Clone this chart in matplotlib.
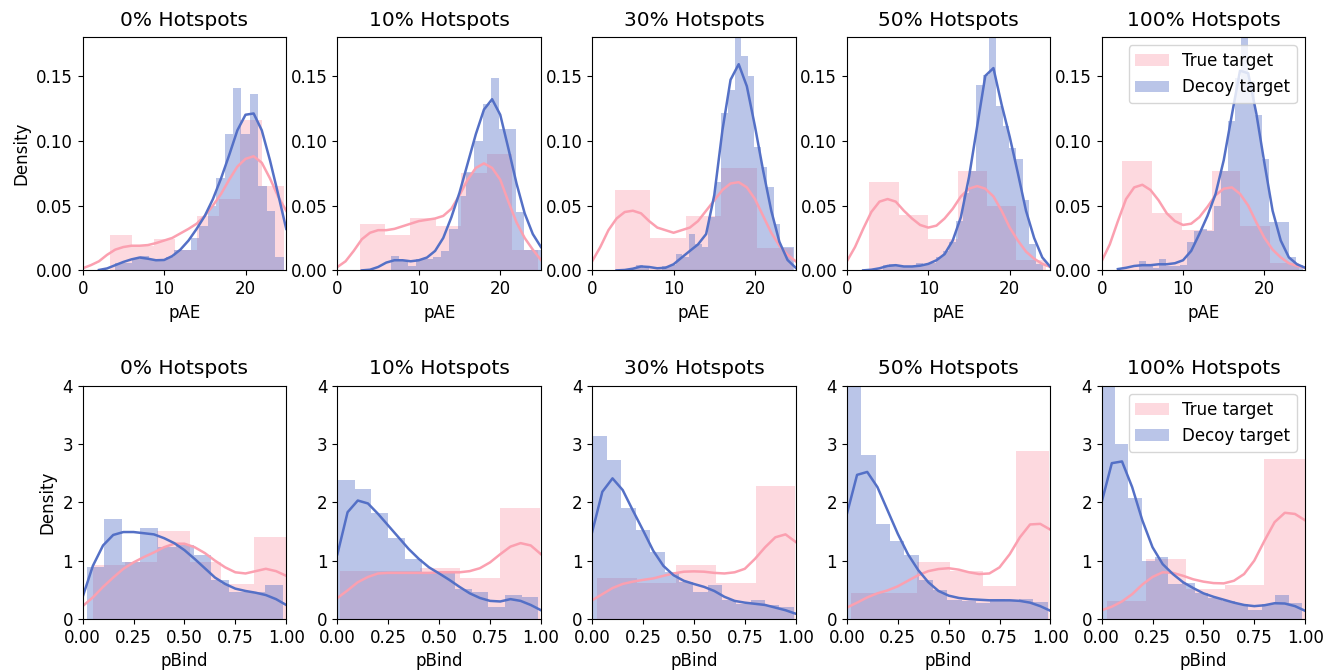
import numpy as np
import matplotlib
matplotlib.use("Agg")
import matplotlib.pyplot as plt

# ---------------------------------------------------------------------------
# Data
# ---------------------------------------------------------------------------
hotspot_levels = ["0%", "10%", "30%", "50%", "100%"]
series_labels = ["True target", "Decoy target"]

# pAE histograms (density) -- true targets use explicit bin edges
pae_true_edges = [
    [3.37, 6.04, 8.71, 11.38, 14.05, 16.71, 19.38, 22.05, 24.72],
    [2.79, 5.82, 8.93, 12.09, 15.16, 18.32, 21.43, 24.59],
    [2.79, 7.05, 11.48, 15.86, 20.29, 24.67],
    [2.75, 6.35, 9.96, 13.6, 17.2, 20.8, 24.4],
    [2.54, 6.15, 9.84, 13.52, 17.05, 20.7, 24.2],
]
pae_true_density = [
    [0.027, 0.019, 0.024, 0.016, 0.042, 0.055, 0.116, 0.065],
    [0.036, 0.0275, 0.040, 0.034, 0.075, 0.090, 0.016],
    [0.062, 0.025, 0.042, 0.079, 0.017],
    [0.068, 0.043, 0.024, 0.077, 0.050, 0.008],
    [0.084, 0.044, 0.031, 0.077, 0.0345, 0.006],
]
# decoy targets: first bin edge, bin width, densities
pae_decoy_start = [3.98, 6.56, 4.615, 4.385, 4.57]
pae_decoy_width = [1.035, 1.025, 0.805, 0.82, 0.84]
pae_decoy_density = [
    [0.006, 0.006, 0.009, 0.011, 0.009, 0.009, 0.010, 0.016, 0.016, 0.025,
     0.034, 0.050, 0.071, 0.105, 0.141, 0.105, 0.136, 0.065, 0.046, 0.010],
    [0.011, 0.008, 0.003, 0.009, 0.009, 0.010, 0.015, 0.032, 0.057, 0.076,
     0.100, 0.128, 0.148, 0.109, 0.109, 0.045, 0.016, 0.016],
    [0.002, 0.004, 0.002, 0.0, 0.0, 0.003, 0.004, 0.0125, 0.010, 0.028,
     0.020, 0.018, 0.041, 0.068, 0.121, 0.139, 0.19, 0.165, 0.150, 0.095,
     0.080, 0.064, 0.036, 0.018, 0.018],
    [0.004, 0.005, 0.003, 0.003, 0.003, 0.006, 0.004, 0.006, 0.010, 0.015,
     0.022, 0.038, 0.060, 0.077, 0.143, 0.151, 0.19, 0.127, 0.111, 0.094,
     0.086, 0.054, 0.020, 0.005],
    [0.007, 0.003, 0.002, 0.009, 0.003, 0.003, 0.004, 0.022, 0.030, 0.032,
     0.030, 0.050, 0.077, 0.115, 0.148, 0.19, 0.146, 0.120, 0.086, 0.037,
     0.037, 0.037, 0.010, 0.004],
]

# pAE kernel density estimates on a unit grid
pae_grid = [0, 1, 2, 3, 4, 5, 6, 7, 8, 9, 10, 11, 12, 13, 14, 15, 16, 17,
            18, 19, 20, 21, 22, 23, 24, 25]
nan = float("nan")
pae_true_kde = [
    [0.0016, 0.004, 0.007, 0.012, 0.016, 0.018, 0.019, 0.019, 0.0195, 0.021,
     0.023, 0.025, 0.0285, 0.032, 0.036, 0.042, 0.050, 0.059, 0.070, 0.080,
     0.086, 0.088, 0.083, 0.071, 0.057, 0.046],
    [0.0026, 0.007, 0.015, 0.024, 0.029, 0.031, 0.031, 0.032, 0.034, 0.036,
     0.038, 0.039, 0.040, 0.042, 0.0475, 0.058, 0.070, 0.079, 0.0825, 0.079,
     0.070, 0.053, 0.037, 0.025, 0.016, 0.008],
    [0.007, 0.018, 0.031, 0.040, 0.045, 0.046, 0.044, 0.038, 0.033, 0.031,
     0.029, 0.031, 0.033, 0.038, 0.046, 0.054, 0.062, 0.067, 0.068, 0.064,
     0.055, 0.042, 0.029, 0.019, 0.012, 0.007],
    [0.007, 0.018, 0.032, 0.045, 0.053, 0.055, 0.053, 0.046, 0.040, 0.035,
     0.033, 0.0345, 0.040, 0.0475, 0.057, 0.063, 0.065, 0.063, 0.057, 0.046,
     0.033, 0.023, 0.0145, 0.009, 0.005, 0.0026],
    [0.007, 0.020, 0.038, 0.055, 0.064, 0.066, 0.062, 0.054, 0.044, 0.038,
     0.035, 0.036, 0.041, 0.049, 0.058, 0.063, 0.064, 0.059, 0.050, 0.037,
     0.025, 0.016, 0.010, 0.0055, 0.0034, 0.002],
]
pae_decoy_kde = [
    [nan, nan, 0.0003, 0.0015, 0.004, 0.0065, 0.0085, 0.0099, 0.009, 0.0078,
     0.008, 0.011, 0.016, 0.023, 0.032, 0.042, 0.055, 0.071, 0.089, 0.108,
     0.120, 0.121, 0.108, 0.085, 0.059, 0.032],
    [nan, nan, nan, 0.0, 0.0005, 0.0026, 0.006, 0.0078, 0.0078, 0.007,
     0.0078, 0.0099, 0.015, 0.025, 0.041, 0.060, 0.0825, 0.105, 0.124, 0.132,
     0.120, 0.094, 0.067, 0.044, 0.028, 0.018],
    [nan, nan, nan, 0.0, 0.0003, 0.0013, 0.003, 0.0026, 0.0016, 0.002,
     0.0047, 0.0099, 0.015, 0.020, 0.028, 0.058, 0.108, 0.147, 0.159, 0.142,
     0.111, 0.077, 0.046, 0.022, 0.008, 0.002],
    [nan, nan, 0.0, 0.0005, 0.0016, 0.0034, 0.004, 0.003, 0.003, 0.0036,
     0.005, 0.0078, 0.0125, 0.023, 0.041, 0.072, 0.111, 0.150, 0.156, 0.128,
     0.103, 0.075, 0.046, 0.025, 0.010, 0.0026],
    [nan, nan, 0.001, 0.002, 0.0034, 0.004, 0.004, 0.0047, 0.0047, 0.0055,
     0.0078, 0.015, 0.028, 0.042, 0.059, 0.085, 0.120, 0.154, 0.152, 0.121,
     0.0825, 0.046, 0.023, 0.010, 0.0047, 0.002],
]

# pBind histograms (density)
pbind_true_edges = [
    [0.052, 0.21, 0.367, 0.525, 0.682, 0.84, 0.997],
    [0.013, 0.21, 0.407, 0.603, 0.80, 0.997],
    [0.025, 0.220, 0.413, 0.608, 0.803, 0.997],
    [0.02, 0.182, 0.344, 0.507, 0.669, 0.831, 0.993],
    [0.025, 0.218, 0.413, 0.607, 0.80, 0.997],
]
pbind_true_density = [
    [0.93, 0.98, 1.5, 0.98, 0.60, 1.41],
    [0.82, 0.82, 0.87, 0.70, 1.91],
    [0.71, 0.62, 0.93, 0.61, 2.28],
    [0.45, 0.45, 0.98, 0.82, 0.57, 2.88],
    [0.31, 1.03, 0.51, 0.59, 2.74],
]
pbind_decoy_start = [0.0197, 0.0033, 0.003, 0.0, 0.0]
pbind_decoy_width = [0.0875, 0.082, 0.0705, 0.0705, 0.0656]
pbind_decoy_density = [
    [0.885, 1.72, 0.98, 1.56, 1.23, 1.27, 1.09, 0.67, 0.47, 0.47, 0.59],
    [2.38, 2.23, 1.82, 1.38, 1.02, 0.80, 0.78, 0.51, 0.47, 0.21, 0.41, 0.38],
    [3.14, 2.72, 1.91, 1.53, 1.14, 0.81, 0.63, 0.47, 0.58, 0.33, 0.26, 0.32,
     0.24, 0.20],
    [4.15, 2.81, 1.63, 1.34, 1.09, 0.67, 0.49, 0.32, 0.31, 0.27, 0.34, 0.31,
     0.35, 0.29],
    [4.3, 3.0, 2.07, 1.0, 1.07, 0.6, 0.62, 0.45, 0.36, 0.31, 0.25, 0.15,
     0.26, 0.41, 0.28],
]

# pBind kernel density estimates
pbind_grid = [0.0, 0.05, 0.1, 0.15, 0.2, 0.25, 0.3, 0.35, 0.4, 0.45, 0.5,
              0.55, 0.6, 0.65, 0.7, 0.75, 0.8, 0.85, 0.9, 0.95, 1.0]
pbind_true_kde = [
    [0.22, 0.37, 0.55, 0.71, 0.86, 0.97, 1.06, 1.14, 1.23, 1.29, 1.29, 1.23,
     1.13, 1.0, 0.885, 0.80, 0.78, 0.82, 0.86, 0.82, 0.74],
    [0.36, 0.49, 0.63, 0.72, 0.78, 0.79, 0.79, 0.79, 0.79, 0.79, 0.80, 0.80,
     0.80, 0.82, 0.87, 0.97, 1.11, 1.24, 1.30, 1.26, 1.11],
    [0.32, 0.425, 0.53, 0.60, 0.64, 0.67, 0.695, 0.74, 0.78, 0.81, 0.816,
     0.81, 0.79, 0.78, 0.80, 0.86, 1.03, 1.23, 1.40, 1.45, 1.32],
    [0.195, 0.28, 0.37, 0.44, 0.49, 0.56, 0.655, 0.75, 0.82, 0.856, 0.87,
     0.845, 0.80, 0.77, 0.78, 0.885, 1.11, 1.40, 1.62, 1.63, 1.53],
    [0.15, 0.21, 0.30, 0.425, 0.59, 0.72, 0.80, 0.79, 0.74, 0.68, 0.64,
     0.615, 0.61, 0.655, 0.77, 1.0, 1.34, 1.66, 1.82, 1.80, 1.69],
]
pbind_decoy_kde = [
    [0.38, 0.91, 1.26, 1.44, 1.49, 1.49, 1.47, 1.45, 1.385, 1.30, 1.18, 1.03,
     0.87, 0.71, 0.60, 0.52, 0.48, 0.45, 0.41, 0.34, 0.24],
    [1.11, 1.83, 2.03, 1.98, 1.80, 1.60, 1.40, 1.20, 1.03, 0.885, 0.78, 0.67,
     0.55, 0.44, 0.36, 0.31, 0.30, 0.34, 0.31, 0.24, 0.15],
    [1.49, 2.18, 2.41, 2.21, 1.86, 1.52, 1.17, 0.91, 0.75, 0.655, 0.60, 0.55,
     0.48, 0.38, 0.31, 0.28, 0.26, 0.24, 0.195, 0.15, 0.09],
    [1.80, 2.47, 2.52, 2.26, 1.86, 1.46, 1.11, 0.84, 0.63, 0.48, 0.40, 0.36,
     0.34, 0.33, 0.32, 0.32, 0.32, 0.31, 0.28, 0.22, 0.14],
    [2.0, 2.67, 2.70, 2.26, 1.69, 1.23, 0.94, 0.77, 0.63, 0.53, 0.44, 0.38,
     0.33, 0.28, 0.24, 0.22, 0.235, 0.27, 0.265, 0.22, 0.14],
]

# ---------------------------------------------------------------------------
# Style
# ---------------------------------------------------------------------------
PINK = "#fba0b0"
BLUE = "#5470c6"
HIST_ALPHA = 0.4
LINE_W = 1.8
TICK_FS = 12
LABEL_FS = 12
TITLE_FS = 14.5

plt.rcParams["font.family"] = ["DejaVu Sans"]
plt.rcParams["lines.solid_joinstyle"] = "round"


def regular_edges(start, width, n):
    return start + width * np.arange(n + 1)


def draw_dist(ax, edges, dens, grid, kde, color, label):
    edges = np.asarray(edges, dtype=float)
    ax.bar(edges[:-1], dens, width=np.diff(edges), align="edge",
           color=color, alpha=HIST_ALPHA, linewidth=0, label=label)
    ax.plot(grid, kde, color=color, lw=LINE_W)


fig, axes = plt.subplots(2, 5, figsize=(13.4, 6.72), dpi=100)
fig.subplots_adjust(left=0.0617, right=0.974, bottom=0.0789, top=0.945,
                    wspace=0.2516, hspace=0.4936)

for i, level in enumerate(hotspot_levels):
    # pAE row
    ax = axes[0, i]
    draw_dist(ax, pae_true_edges[i], pae_true_density[i], pae_grid,
              pae_true_kde[i], PINK, series_labels[0])
    d_edges = regular_edges(pae_decoy_start[i], pae_decoy_width[i],
                            len(pae_decoy_density[i]))
    draw_dist(ax, d_edges, pae_decoy_density[i], pae_grid,
              pae_decoy_kde[i], BLUE, series_labels[1])
    ax.set_xlim(0, 25)
    ax.set_ylim(0, 0.18)
    ax.set_xticks([0, 10, 20])
    ax.set_yticks([0.0, 0.05, 0.10, 0.15])
    ax.set_yticklabels(["0.00", "0.05", "0.10", "0.15"])
    ax.set_xlabel("pAE", fontsize=LABEL_FS)
    ax.set_title(f"{level} Hotspots", fontsize=TITLE_FS, pad=8)

    # pBind row
    ax = axes[1, i]
    draw_dist(ax, pbind_true_edges[i], pbind_true_density[i], pbind_grid,
              pbind_true_kde[i], PINK, series_labels[0])
    d_edges = regular_edges(pbind_decoy_start[i], pbind_decoy_width[i],
                            len(pbind_decoy_density[i]))
    draw_dist(ax, d_edges, pbind_decoy_density[i], pbind_grid,
              pbind_decoy_kde[i], BLUE, series_labels[1])
    ax.set_xlim(0, 1)
    ax.set_ylim(0, 4)
    ax.set_xticks([0, 0.25, 0.5, 0.75, 1.0])
    ax.set_xticklabels(["0.00", "0.25", "0.50", "0.75", "1.00"])
    ax.set_yticks([0, 1, 2, 3, 4])
    ax.set_xlabel("pBind", fontsize=LABEL_FS)
    ax.set_title(f"{level} Hotspots", fontsize=TITLE_FS, pad=8)

for ax in axes.flat:
    ax.tick_params(labelsize=TICK_FS)

axes[0, 0].set_ylabel("Density", fontsize=LABEL_FS)
axes[1, 0].set_ylabel("Density", fontsize=LABEL_FS)

axes[0, 4].legend(loc="upper right", fontsize=LABEL_FS)
axes[1, 4].legend(loc="upper right", fontsize=LABEL_FS)

fig.savefig("out.png", dpi=100)
